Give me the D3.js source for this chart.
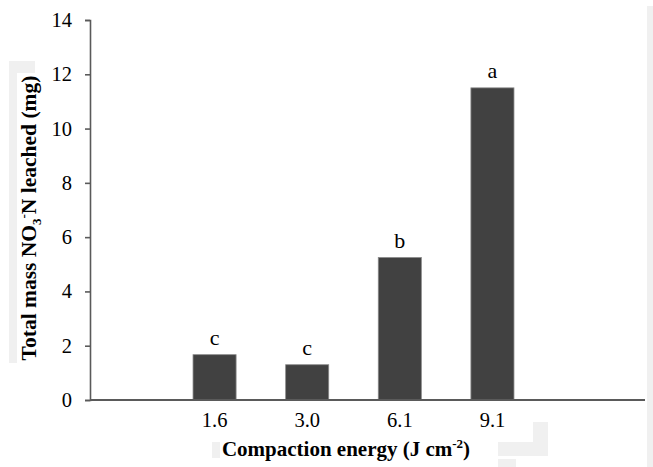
<!DOCTYPE html>
<html>
<head>
<meta charset="utf-8">
<script src="https://cdn.jsdelivr.net/npm/d3@7"></script>
<style>
  body { margin: 0; background: #fff; }
  svg text { font-family: "Liberation Serif", "Times New Roman", serif; }
</style>
</head>
<body>
<div class="chart"></div>
<script>
//data
var energies = ["1.6", "3.0", "6.1", "9.1"];
var nitrate = [1.67, 1.30, 5.25, 11.5];
var letters = ["c", "c", "b", "a"];
var yTicks = [0, 2, 4, 6, 8, 10, 12, 14];

//svg dims (plot box edges)
var width = 653;
var height = 467;
var plotLeft = 90, plotRight = 645, plotTop = 20, plotBottom = 400;

var svg = d3.select(".chart")
            .append("svg")
            .attr("width", width)
            .attr("height", height);

//faint grey scan marks round the plot
var marks = [
  [9, 61, 26, 12], [9, 73, 8, 290], [212, 442, 8, 16],
  [533, 422, 15, 20], [498, 442, 50, 14], [498, 459, 18, 8], [647, 6, 6, 461]
];
svg.append("g")
   .selectAll("rect")
   .data(marks)
   .enter()
   .append("rect")
   .attr("x", d => d[0]).attr("y", d => d[1])
   .attr("width", d => d[2]).attr("height", d => d[3])
   .attr("fill", "#f0f0f0");

//scales
var yScale = d3.scaleLinear()
               .domain([0, 14])
               .range([plotBottom, plotTop]);
var xScale = d3.scaleBand()
               .domain(energies)
               .range([168.25, 538.75])
               .paddingInner(0.535)
               .paddingOuter(0.2675);

//bars
svg.append("g")
   .selectAll("rect")
   .data(nitrate)
   .enter()
   .append("rect")
   .attr("x", (d, i) => xScale(energies[i]))
   .attr("y", d => yScale(d))
   .attr("width", xScale.bandwidth())
   .attr("height", d => plotBottom - yScale(d))
   .attr("fill", "#414141")
   .attr("stroke", "#8a8a8a")
   .attr("stroke-width", 0.8);

//significance letters
svg.append("g")
   .selectAll("text")
   .data(nitrate)
   .enter()
   .append("text")
   .attr("x", (d, i) => xScale(energies[i]) + xScale.bandwidth() / 2)
   .attr("y", d => yScale(d) - 10)
   .attr("text-anchor", "middle")
   .attr("font-size", 22)
   .attr("fill", "#000")
   .text((d, i) => letters[i]);

//y axis
var yAxis = d3.axisLeft(yScale)
              .tickValues(yTicks)
              .tickFormat(d3.format("d"))
              .tickSize(5)
              .tickSizeOuter(5)
              .tickPadding(13);
var gy = svg.append("g")
            .attr("transform", `translate(${plotLeft}, 0)`)
            .call(yAxis);
gy.selectAll("path, line").attr("stroke", "#5a5a5a").attr("stroke-width", 1.6);
gy.selectAll("text").attr("font-size", 20.5).attr("fill", "#000")
  .attr("font-family", "Liberation Serif, serif");

//x axis line and labels
svg.append("line")
   .attr("x1", plotLeft).attr("x2", plotRight)
   .attr("y1", plotBottom).attr("y2", plotBottom)
   .attr("stroke", "#5a5a5a")
   .attr("stroke-width", 2);
svg.append("g")
   .selectAll("text")
   .data(energies)
   .enter()
   .append("text")
   .attr("x", d => xScale(d) + xScale.bandwidth() / 2)
   .attr("y", 427)
   .attr("text-anchor", "middle")
   .attr("font-size", 20.5)
   .attr("fill", "#000")
   .text(d => d);

//axis titles
var xt = svg.append("text")
            .attr("x", 346)
            .attr("y", 456)
            .attr("text-anchor", "middle")
            .attr("font-size", 21)
            .attr("font-weight", "bold");
xt.append("tspan").text("Compaction energy (J cm");
xt.append("tspan").attr("font-size", 13).attr("dy", -8).text("-2");
xt.append("tspan").attr("dy", 8).text(")");

var yt = svg.append("text")
            .attr("transform", "translate(36, 218) rotate(-90)")
            .attr("text-anchor", "middle")
            .attr("font-size", 21.5)
            .attr("font-weight", "bold");
yt.append("tspan").text("Total mass NO");
yt.append("tspan").attr("font-size", 13).attr("dy", 5).text("3");
yt.append("tspan").attr("font-size", 13).attr("dy", -13).text("-");
yt.append("tspan").attr("dy", 8).text("N leached (mg)");
</script>
</body>
</html>
